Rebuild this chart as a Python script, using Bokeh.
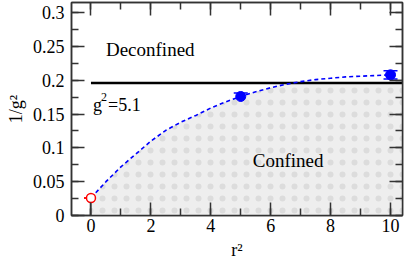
import numpy as np
from bokeh.plotting import figure
from bokeh.models import (Range1d, LinearAxis, SingleIntervalTicker, ColumnDataSource,
                          Whisker, TeeHead, CustomJSTickFormatter)
from bokeh.core.properties import value
from bokeh.embed import file_html
from bokeh.resources import INLINE

# ---- data ----
# measured points
red_x = [0.0]
red_y = [0.026]
red_err = [0.0]
blue_x = [5.0, 10.0]
blue_y = [0.176, 0.208]
blue_err = [0.005, 0.006]

# dashed fit curve
fit_x = [0, 0.5, 1, 1.5, 2, 2.5, 3, 3.5, 4, 4.5, 5, 5.5, 6, 6.5, 7, 7.5, 8, 8.5, 9, 9.5, 10]
fit_y = [0.026, 0.050, 0.072, 0.091, 0.110, 0.126, 0.138, 0.148, 0.159, 0.168, 0.176,
         0.183, 0.189, 0.194, 0.198, 0.201, 0.203, 0.205, 0.206, 0.207, 0.208]

g2_crit = 5.1
x_lo, x_hi = -0.65, 10.4
y_lo, y_hi = 0.0, 0.315

FONT = "Liberation Serif"
AX = "#333333"

p = figure(width=405, height=262, x_range=Range1d(x_lo, x_hi), y_range=Range1d(y_lo, y_hi),
           output_backend="svg", toolbar_location=None,
           min_border_left=71, min_border_right=3, min_border_top=2, min_border_bottom=40)
p.grid.visible = False
p.outline_line_color = AX
p.outline_line_width = 1.5
p.background_fill_color = "white"

xt = SingleIntervalTicker(interval=2, num_minor_ticks=2)
yt = SingleIntervalTicker(interval=0.05, num_minor_ticks=2)

def style_axis(ax, ticker, show_labels=True):
    ax.ticker = ticker
    ax.axis_line_color = AX
    ax.axis_line_width = 1.5
    ax.major_tick_line_color = AX
    ax.minor_tick_line_color = AX
    ax.major_tick_line_width = 1.5
    ax.minor_tick_line_width = 1.5
    ax.major_tick_in = 13
    ax.major_tick_out = 0
    ax.minor_tick_in = 7
    ax.minor_tick_out = 0
    if show_labels:
        ax.major_label_text_font = FONT
        ax.major_label_text_font_size = "18px"
        ax.major_label_text_color = "black"
        ax.axis_label_text_font = FONT
        ax.axis_label_text_font_size = "18px"
        ax.axis_label_text_font_style = "normal"
        ax.axis_label_text_color = "black"
    else:
        ax.formatter = CustomJSTickFormatter(code="return ''")
        ax.major_label_text_font_size = "0px"
        ax.major_label_standoff = 0

xa = p.xaxis[0]
style_axis(xa, xt)
xa.axis_label = "r²"
xa.major_label_standoff = 3
xa.axis_label_standoff = 5
ya = p.yaxis[0]
style_axis(ya, yt)
ya.axis_label = "1/g²"
ya.major_label_standoff = 7
ya.axis_label_standoff = 4
ya.major_label_orientation = "horizontal"

top = LinearAxis()
style_axis(top, SingleIntervalTicker(interval=2, num_minor_ticks=2), show_labels=False)
p.add_layout(top, "above")
right = LinearAxis()
style_axis(right, SingleIntervalTicker(interval=0.05, num_minor_ticks=2), show_labels=False)
p.add_layout(right, "right")

# ---- shaded "confined" region: below min(curve, critical line) ----
yline = 1.0 / g2_crit
fx = np.array(fit_x, dtype=float)
fy = np.array(fit_y, dtype=float)
idx = np.where(fy >= yline)[0][0]
xc = fx[idx - 1] + (yline - fy[idx - 1]) * (fx[idx] - fx[idx - 1]) / (fy[idx] - fy[idx - 1])
sx = list(fx[:idx]) + [xc, x_hi]
sy = list(fy[:idx]) + [yline, yline]
p.varea(x=sx, y1=[0] * len(sx), y2=sy, fill_color="#eeeeee",
        hatch_pattern="dot", hatch_scale=12, hatch_weight=4, hatch_color="#dcdcdc")
p.segment(x0=[fx[0]], y0=[0], x1=[fx[0]], y1=[fy[0]], line_color="#555555", line_width=1.5)

# critical coupling line
p.segment(x0=[0], y0=[yline], x1=[x_hi], y1=[yline], line_color="black", line_width=2.5)

# dashed fit
p.line(fit_x, fit_y, line_color="#0000ff", line_width=1.6, line_dash="4 3")

# error bars
src_b = ColumnDataSource(dict(x=blue_x, lo=[y - e for y, e in zip(blue_y, blue_err)],
                              hi=[y + e for y, e in zip(blue_y, blue_err)]))
p.add_layout(Whisker(base="x", lower="lo", upper="hi", source=src_b, dimension="height",
                     line_color="#0000ff", line_width=1.5,
                     upper_head=TeeHead(size=14, line_color="#0000ff", line_width=1.5),
                     lower_head=TeeHead(size=14, line_color="#0000ff", line_width=1.5)))
src_r = ColumnDataSource(dict(x=red_x, lo=[y - e for y, e in zip(red_y, red_err)],
                              hi=[y + e for y, e in zip(red_y, red_err)]))
p.add_layout(Whisker(base="x", lower="lo", upper="hi", source=src_r, dimension="height",
                     line_color="#ff0000", line_width=1.5,
                     upper_head=TeeHead(size=14, line_color="#ff0000", line_width=1.5),
                     lower_head=TeeHead(size=14, line_color="#ff0000", line_width=1.5)))

p.scatter(blue_x, blue_y, size=10, marker="circle", fill_color="#0000ff", line_color="#0000ff")
p.scatter(red_x, red_y, size=9, marker="circle", fill_color="white", line_color="#ff0000",
          line_width=1.5)

# ---- texts ----
p.text(x=[0.5], y=[0.245], text=["Deconfined"], text_font=value(FONT), text_font_size="19px",
       text_baseline="alphabetic", text_color="black")
p.text(x=[5.4], y=[0.081], text=["Confined"], text_font=value(FONT), text_font_size="19px",
       text_baseline="alphabetic", text_color="black")
p.text(x=[0.07], y=[0.163], text=["g"], text_font=value(FONT), text_font_size="18px",
       text_baseline="alphabetic", text_color="black")
p.text(x=[0.07], y=[0.163], text=["2"], text_font=value(FONT), text_font_size="12px",
       x_offset=8, y_offset=-8, text_baseline="alphabetic", text_color="black")
p.text(x=[0.07], y=[0.163], text=["=5.1"], text_font=value(FONT), text_font_size="18px",
       x_offset=15, text_baseline="alphabetic", text_color="black")

open("out.html", "w").write(file_html(p, INLINE))
